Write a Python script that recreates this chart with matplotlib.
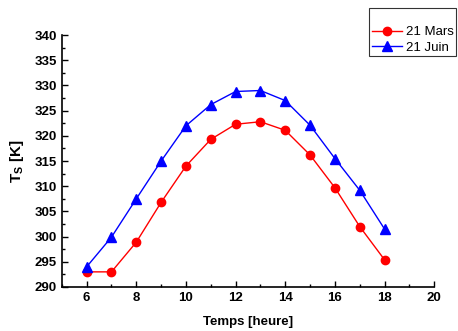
import numpy as np
import matplotlib
matplotlib.use('Agg')
import matplotlib.pyplot as plt
from matplotlib.ticker import MultipleLocator

plt.rcParams['font.family'] = ['Liberation Sans', 'DejaVu Sans']
plt.rcParams['mathtext.fontset'] = 'custom'
plt.rcParams['mathtext.rm'] = 'Liberation Sans'
plt.rcParams['mathtext.bf'] = 'Liberation Sans:bold'

hours = [6, 7, 8, 9, 10, 11, 12, 13, 14, 15, 16, 17, 18]
ts_mars = [293.0, 293.0, 298.9, 306.8, 314.0, 319.3, 322.3, 322.8, 321.1, 316.2, 309.7, 302.0, 295.4]
ts_juin = [294.0, 299.9, 307.5, 315.0, 322.0, 326.2, 328.8, 329.0, 327.0, 322.1, 315.5, 309.2, 301.5]

fig = plt.figure(figsize=(4.58, 3.31), dpi=100)
ax = fig.add_axes([0.135, 0.133, 0.813, 0.761])

ax.plot(hours, ts_mars, color='red', marker='o', markersize=6, linewidth=1, label='21 Mars')
ax.plot(hours, ts_juin, color='blue', marker='^', markersize=6.5, linewidth=1, label='21 Juin')

ax.set_xlim(5, 20)
ax.set_ylim(290, 340)
ax.xaxis.set_major_locator(MultipleLocator(2))
ax.xaxis.set_minor_locator(MultipleLocator(1))
ax.yaxis.set_major_locator(MultipleLocator(5))
ax.yaxis.set_minor_locator(MultipleLocator(2.5))
ax.tick_params(which='both', direction='in', width=1)
ax.tick_params(which='major', length=4, labelsize=9.5)
ax.tick_params(which='minor', length=2)
for lab in ax.get_xticklabels() + ax.get_yticklabels():
    lab.set_fontweight('bold')

ax.spines['top'].set_visible(False)
ax.spines['right'].set_visible(False)
ax.spines['left'].set_linewidth(1.2)
ax.spines['bottom'].set_linewidth(1.2)

ax.set_xlabel('Temps [heure]', fontweight='bold', fontsize=9.5, labelpad=9)
ax.set_ylabel(r'$\mathbf{T_S}$ [K]', fontweight='bold', fontsize=11, labelpad=6)

leg = fig.legend(loc='upper left', bbox_to_anchor=(369/458, 1 - 8/331), fontsize=9.5,
                 title=' ', title_fontsize=9.5,
                 frameon=True, fancybox=False, edgecolor='black', borderpad=0.2,
                 borderaxespad=0, handlelength=2.3, labelspacing=0.25, handletextpad=0.3)
leg.get_frame().set_linewidth(0.8)

fig.savefig('out.png', dpi=100)
